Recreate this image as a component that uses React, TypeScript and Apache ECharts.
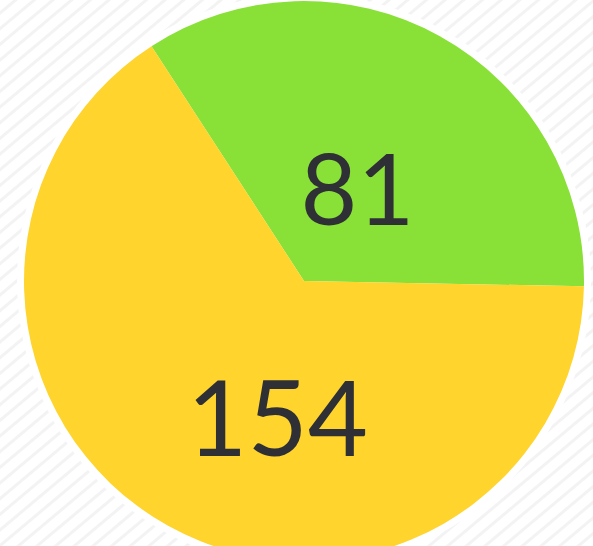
import React, { useEffect, useRef } from "react";
import * as echarts from "echarts";

const categories = ["A", "B"];
const values = [81, 154];
const colors = ["#89E137", "#FED42D"];

const CX = 304;
const CY = 281;
const R = 280;

export default function App() {
  const ref = useRef<HTMLDivElement>(null);
  useEffect(() => {
    if (!ref.current) return;
    const chart = echarts.init(ref.current, undefined, { renderer: "svg" });
    chart.setOption({
      animation: false,
      backgroundColor: "transparent",
      graphic: [
        {
          type: "circle",
          z: 0,
          silent: true,
          shape: { cx: CX, cy: CY, r: R + 7 },
          style: { fill: "#ffffff" },
        },
      ],
      series: [
        {
          type: "pie",
          z: 2,
          center: [CX, CY],
          radius: R,
          startAngle: 123,
          clockwise: true,
          avoidLabelOverlap: false,
          label: {
            show: true,
            position: "inside",
            formatter: "{c}",
            fontFamily: "Lato",
            color: "#2f2f36",
          },
          labelLine: { show: false },
          labelLayout: (p: any) =>
            p.dataIndex === 0 ? { dx: -16, dy: 31 } : { dx: 43, dy: 9 },
          emphasis: { disabled: true },
          data: categories.map((c, i) => ({
            name: c,
            value: values[i],
            itemStyle: { color: colors[i] },
            label: { fontSize: i === 0 ? 98 : 104 },
          })),
        },
      ],
    });
    return () => chart.dispose();
  }, []);
  return (
    <div
      style={{
        position: "absolute",
        left: 0,
        top: 0,
        width: 593,
        height: 546,
        background:
          "repeating-linear-gradient(140deg, #ffffff 0px, #ffffff 8px, #f3f3f3 9px, #f3f3f3 11px, #ffffff 12px)",
      }}
    >
      <div ref={ref} style={{ width: 593, height: 546 }} />
    </div>
  );
}
